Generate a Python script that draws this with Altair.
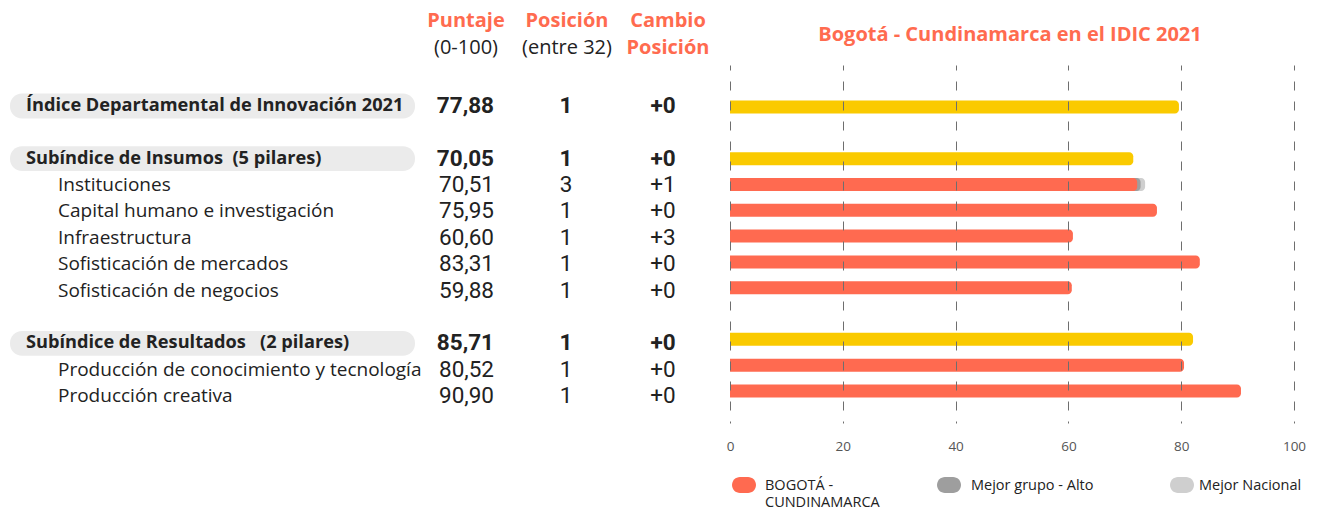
import altair as alt
import pandas as pd

FONT = "Open Sans"
NUMFONT = "Roboto"
RED = "#FF6A50"
YELLOW = "#FACA00"
GRAY = "#9E9E9E"
LIGHT = "#CFCFCF"
ORANGE = "#FF6B4F"
INK = "#222222"

# ---------------- data ----------------
labels = [
    "Índice Departamental de Innovación 2021",
    "Subíndice de Insumos\u00a0 (5 pilares)",
    "Instituciones",
    "Capital humano e investigación",
    "Infraestructura",
    "Sofisticación de mercados",
    "Sofisticación de negocios",
    "Subíndice de Resultados\u00a0\u00a0 (2 pilares)",
    "Producción de conocimiento y tecnología",
    "Producción creativa",
]
slots = [0, 2, 3, 4, 5, 6, 7, 9, 10, 11]
is_section = [True, True, False, False, False, False, False, True, False, False]
puntaje = [77.88, 70.05, 70.51, 75.95, 60.60, 83.31, 59.88, 85.71, 80.52, 90.90]
posicion = [1, 1, 3, 1, 1, 1, 1, 1, 1, 1]
cambio = ["+0", "+0", "+1", "+0", "+3", "+0", "+0", "+0", "+0", "+0"]

# bar lengths as drawn in the picture
bar_bogota = [79.6, 71.5, 72.2, 75.7, 60.8, 83.3, 60.6, 82.1, 80.5, 90.6]
bar_mejor_grupo = {"Instituciones": 72.8}
bar_mejor_nacional = {"Instituciones": 73.6}

header_top = ["Puntaje", "Posición", "Cambio"]
header_bottom = ["(0-100)", "(entre 32)", "Posición"]
title_text = "Bogotá - Cundinamarca en el IDIC 2021"

series_names = ["BOGOTÁ - CUNDINAMARCA", "Mejor grupo - Alto", "Mejor Nacional", "Subíndice"]
series_colors = [RED, GRAY, LIGHT, YELLOW]
axis_ticks = [0, 20, 40, 60, 80, 100]

# ---------------- tables ----------------
table = pd.DataFrame({
    "label": labels,
    "slot": slots,
    "section": is_section,
    "puntaje": [f"{v:.2f}".replace(".", ",") for v in puntaje],
    "posicion": [str(p) for p in posicion],
    "cambio": cambio,
})
table["y_top"] = table["slot"] - 0.47
table["y_bot"] = table["slot"] + 0.47

rows = []
for lab, s in zip(labels, slots):
    if lab in bar_mejor_nacional:
        rows.append({"slot": s, "value": bar_mejor_nacional[lab], "series": "Mejor Nacional", "z": 0})
    if lab in bar_mejor_grupo:
        rows.append({"slot": s, "value": bar_mejor_grupo[lab], "series": "Mejor grupo - Alto", "z": 1})
for lab, s, v, sec in zip(labels, slots, bar_bogota, is_section):
    rows.append({"slot": s, "value": v, "series": "Subíndice" if sec else "BOGOTÁ - CUNDINAMARCA", "z": 2})
bars = pd.DataFrame(rows)

heads = pd.DataFrame({"top": header_top, "bottom": header_bottom, "i": [0, 1, 2]})
legend_df = pd.DataFrame({"name": series_names[:3],
                          "shown": ["BOGOTÁ -\nCUNDINAMARCA", "Mejor grupo - Alto", "Mejor Nacional"]})

PLOT_H = 358
ytext = alt.Scale(domain=[0, 11], range=[41, 331], padding=0)
# bar rows: slot 0 at 42 px, slot 11 at 326 px, scale spans the full plot height
step = (326 - 42) / 11
ybar = alt.Scale(domain=[-42 / step, (PLOT_H - 42) / step], range=[0, PLOT_H], padding=0, nice=False, zero=False)
color_scale = alt.Scale(domain=series_names, range=series_colors)


def txt(df, field, x, align, bold, size, color=INK, y=None, font=FONT):
    enc = {"x": alt.value(x), "text": alt.Text(f"{field}:N")}
    if y is None:
        enc["y"] = alt.Y("slot:Q", scale=ytext, axis=None)
    else:
        enc["y"] = alt.value(y)
    return alt.Chart(df).mark_text(
        align=align, baseline="middle", font=font, fontSize=size,
        fontWeight="bold" if bold else "normal", color=color, lineBreak="\n"
    ).encode(**enc)


sec = table[table["section"]]
sub = table[~table["section"]]

bg = alt.Chart(sec).mark_rect(cornerRadius=12, color="#EBEBEB").encode(
    x=alt.value(10), x2=alt.value(415),
    y=alt.Y("y_top:Q", scale=ytext, axis=None), y2="y_bot:Q",
)

layers = [bg]
layers.append(txt(sec, "label", 26, "left", True, 18.2))
layers.append(txt(sub, "label", 58, "left", False, 19))
for df, b in ((sec, True), (sub, False)):
    layers.append(txt(df, "puntaje", 494, "right", b, 22.5, font=NUMFONT))
    layers.append(txt(df, "posicion", 566, "center", b, 22.5, font=NUMFONT))
    layers.append(txt(df, "cambio", 663, "center", b, 22.5, font=NUMFONT))

hx = [466, 567, 668]
for i, x in enumerate(hx):
    h = heads[heads["i"] == i]
    layers.append(txt(h, "top", x, "center", True, 20, ORANGE, y=-44))
    layers.append(txt(h, "bottom", x, "center", i == 2, 20, ORANGE if i == 2 else INK, y=-17))

layers.append(txt(pd.DataFrame({"t": [title_text]}), "t", 1010, "center", True, 20, ORANGE, y=-30))

barlayer = alt.Chart(bars).mark_bar(orient="horizontal", size=13, cornerRadiusEnd=4).encode(
    x=alt.X("value:Q", stack=None,
            scale=alt.Scale(domain=[0, 100], range=[730, 1294], padding=0),
            axis=alt.Axis(values=axis_ticks, grid=True, gridDash=[9, 11], gridDashOffset=7,
                          gridColor="#6E6E6E", gridWidth=1, domain=False, ticks=False,
                          labelPadding=16, labelFlush=False,
                          labelFont=FONT, labelFontSize=13.5, labelColor="#555555",
                          title=None, zindex=1)),
    y=alt.Y("slot:Q", scale=ybar, axis=None),
    color=alt.Color("series:N", scale=color_scale, legend=None),
    order=alt.Order("z:Q"),
)
layers.append(barlayer)

pill = "M-0.333,-0.667 L0.333,-0.667 A0.667,0.667 0 0 1 0.333,0.667 L-0.333,0.667 A0.667,0.667 0 0 1 -0.333,-0.667 Z"
leg_sym_x = [744, 949, 1182]
leg_lab_x = [765, 971, 1199]
for i in range(3):
    d = legend_df.iloc[[i]]
    layers.append(alt.Chart(d).mark_point(shape=pill, size=576, filled=True, opacity=1, strokeWidth=0).encode(
        x=alt.value(leg_sym_x[i]), y=alt.value(420),
        color=alt.Color("name:N", scale=color_scale, legend=None)))
    layers.append(alt.Chart(d).mark_text(align="left", baseline="top", font=FONT, fontSize=14.5,
                                         color=INK, lineBreak="\n", lineHeight=17).encode(
        x=alt.value(leg_lab_x[i]), y=alt.value(414), text="shown:N"))

chart = alt.layer(*layers).resolve_scale(y="independent", x="independent", color="shared").properties(
    width=1320, height=PLOT_H,
    autosize=alt.AutoSizeParams(type="none"),
    padding={"left": 0, "top": 65, "right": 0, "bottom": 87},
    background="white",
).configure_view(strokeWidth=0)

chart.save("out.html", embed_options={"renderer": "svg", "actions": False})
